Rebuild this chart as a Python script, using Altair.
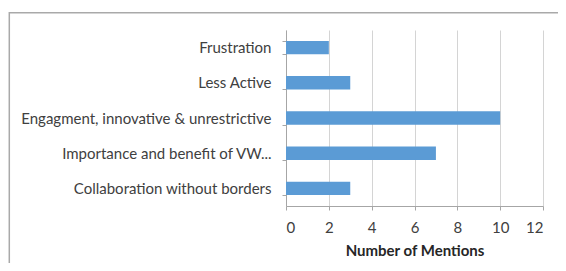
import altair as alt
import pandas as pd

categories = [
    "Frustration",
    "Less Active",
    "Engagment, innovative & unrestrictive",
    "Importance and benefit of VW...",
    "Collaboration without borders",
]
mentions = [2, 3, 10, 7, 3]
x_ticks = [0, 2, 4, 6, 8, 10, 12]

df = pd.DataFrame({"category": categories, "mentions": mentions})

W, H = 257, 176
FONT = "Lato"
AXIS_GRAY = "#a6a6a6"
TEXT = "#404040"
FS = 15

frame = alt.Chart(pd.DataFrame({"a": [0]})).mark_rect(
    fill="transparent", stroke="#a9a9a9", strokeWidth=1.5, clip=False
).encode(
    x=alt.value(-276.7), x2=alt.value(W + 60),
    y=alt.value(-17.3), y2=alt.value(H + 90),
)

bars = alt.Chart(df).mark_bar(color="#5b9bd5").encode(
    x=alt.X(
        "mentions:Q",
        scale=alt.Scale(domain=[0, 12], nice=False),
        axis=alt.Axis(
            values=x_ticks, title="Number of Mentions", grid=True,
            gridColor="#d4d4d4", gridWidth=1,
            domainColor=AXIS_GRAY, tickColor=AXIS_GRAY, tickSize=4,
            labelFontSize=FS, labelColor=TEXT, labelPadding=10,
            titleFontSize=FS, titleFontWeight="bold", titleColor="#262626",
            titlePadding=8,
        ),
    ),
    y=alt.Y(
        "category:N", sort=categories,
        scale=alt.Scale(paddingInner=0.62, paddingOuter=0.31),
        axis=alt.Axis(
            title=None, tickBand="extent", grid=False,
            domainColor=AXIS_GRAY, tickColor=AXIS_GRAY, tickSize=4,
            labelFontSize=FS, labelColor=TEXT, labelPadding=11, labelLimit=0,
        ),
    ),
)

chart = alt.layer(frame, bars).properties(
    width=W, height=H,
    autosize=alt.AutoSizeParams(type="none"),
    padding={"left": 278, "top": 22, "right": 550 - 278 - W, "bottom": 255 - 22 - H},
).configure(font=FONT).configure_view(strokeWidth=0)

chart.save("out.html", embed_options={"renderer": "svg", "actions": False})
